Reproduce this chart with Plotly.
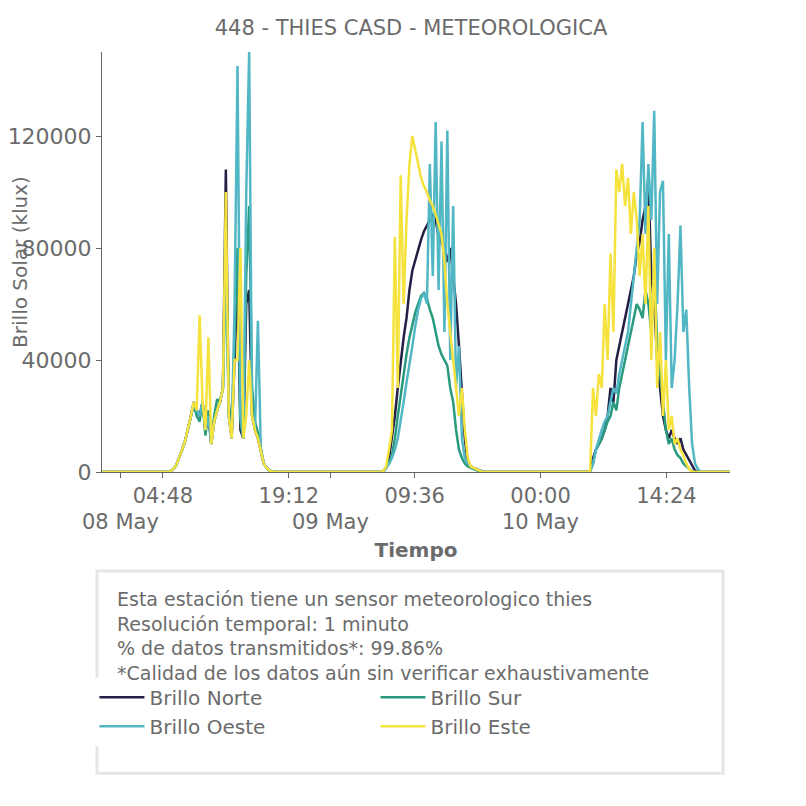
import pandas as pd
import plotly.graph_objects as go

days = ['2024-05-08', '2024-05-09', '2024-05-10']
range_start = '2024-05-07 21:50'
range_end = '2024-05-10 21:40'

# values every 20 minutes from 05:00 to 18:40 for each day (klux)
norte = [
    [0, 0, 300, 1000, 2500, 5000, 8000, 11000, 15000, 20000, 25000, 22000, 20000, 25000, 15000, 20000, 10000, 18000, 22000, 25000, 30000,
     108000, 20000, 12000, 40000, 70000, 15000, 12000, 60000, 65000, 20000, 15000, 12000, 8000, 3000, 1500, 500, 200, 0, 0, 0, 0],
    [0, 0, 0, 300, 1500, 5000, 12000, 20000, 30000, 40000, 48000, 55000, 65000, 72000, 76000, 80000, 83000, 86000, 88000, 90000, 92000,
     90000, 84000, 82000, 80000, 75000, 80000, 70000, 60000, 45000, 30000, 12000, 3000, 2000, 1500, 1000, 500, 200, 0, 0, 0, 0],
    [0, 0, 500, 5000, 8000, 10000, 12000, 15000, 20000, 30000, 25000, 40000, 45000, 50000, 55000, 60000, 65000, 70000, 78000, 82000, 90000,
     95000, 105000, 70000, 60000, 40000, 30000, 20000, 15000, 12000, 15000, 12000, 10000, 12000, 8000, 6000, 4000, 2000, 500, 0, 0, 0],
]
sur = [
    [0, 0, 300, 1000, 2500, 5000, 8000, 11000, 15000, 20000, 24000, 20000, 18000, 25000, 13000, 22000, 11000, 20000, 26000, 25000, 30000,
     75000, 25000, 15000, 50000, 80000, 18000, 12000, 70000, 95000, 30000, 18000, 14000, 9000, 3000, 1500, 500, 200, 0, 0, 0, 0],
    [0, 0, 0, 300, 1500, 3000, 6000, 12000, 20000, 28000, 35000, 42000, 48000, 53000, 57000, 60000, 63000, 64000, 62000, 58000, 55000,
     50000, 45000, 42000, 40000, 38000, 30000, 25000, 15000, 8000, 5000, 3000, 2000, 1500, 1000, 500, 200, 0, 0, 0, 0, 0],
    [0, 0, 300, 3000, 8000, 10000, 12000, 15000, 18000, 20000, 25000, 22000, 30000, 35000, 40000, 45000, 50000, 55000, 60000, 58000, 55000,
     65000, 60000, 50000, 75000, 45000, 35000, 25000, 15000, 10000, 12000, 8000, 6000, 5000, 3000, 2000, 1000, 300, 0, 0, 0, 0],
]
oeste = [
    [0, 0, 300, 1000, 2500, 5000, 8000, 11000, 15000, 20000, 25000, 22000, 20000, 25000, 15000, 20000, 10000, 18000, 22000, 25000, 30000,
     80000, 20000, 12000, 60000, 145000, 20000, 12000, 100000, 150000, 20000, 15000, 54000, 8000, 3000, 1500, 500, 200, 0, 0, 0, 0],
    [0, 0, 0, 300, 1500, 3000, 5000, 8000, 12000, 18000, 25000, 32000, 38000, 45000, 52000, 58000, 62000, 64000, 60000, 110000, 70000,
     125000, 65000, 118000, 50000, 122000, 40000, 95000, 30000, 45000, 12000, 5000, 3000, 2000, 1500, 1000, 500, 200, 0, 0, 0, 0],
    [0, 0, 300, 3000, 8000, 12000, 15000, 18000, 20000, 25000, 30000, 28000, 35000, 40000, 45000, 50000, 60000, 70000, 80000, 90000, 125000,
     85000, 110000, 90000, 129000, 60000, 100000, 104000, 40000, 85000, 30000, 40000, 60000, 88000, 50000, 58000, 30000, 10000, 3000, 1000, 0, 0],
]
este = [
    [0, 0, 300, 1000, 2500, 5000, 8000, 11000, 15000, 20000, 25000, 22000, 56000, 25000, 15000, 48000, 10000, 18000, 22000, 25000, 30000,
     100000, 20000, 12000, 40000, 40000, 80000, 12000, 20000, 40000, 20000, 15000, 12000, 8000, 3000, 1500, 500, 200, 0, 0, 0, 0],
    [0, 0, 0, 300, 2000, 8000, 15000, 84000, 30000, 106000, 60000, 90000, 110000, 120000, 115000, 110000, 105000, 102000, 100000, 97000, 95000,
     92000, 88000, 85000, 75000, 60000, 50000, 40000, 30000, 20000, 30000, 15000, 5000, 2000, 1500, 1000, 500, 0, 0, 0, 0, 0],
    [0, 0, 500, 30000, 20000, 35000, 30000, 60000, 40000, 78000, 50000, 108000, 100000, 110000, 95000, 105000, 85000, 100000, 90000, 70000, 85000,
     60000, 95000, 40000, 80000, 30000, 50000, 20000, 40000, 15000, 20000, 10000, 12000, 8000, 6000, 3000, 1000, 200, 0, 0, 0, 0],
]

series = [('Brillo Norte', norte, '#231f45'), ('Brillo Sur', sur, '#2a9a7f'),
          ('Brillo Oeste', oeste, '#52b7c4'), ('Brillo Este', este, '#f5e23d')]

info = ('Esta estación tiene un sensor meteorologico thies<br>Resolución temporal: 1 minuto<br>'
        '% de datos transmitidos*: 99.86%<br>*Calidad de los datos aún sin verificar exhaustivamente')


def build(day_values):
    times = [pd.Timestamp(range_start)]
    vals = [0]
    for d, v in zip(days, day_values):
        t = pd.date_range(d + ' 05:00', periods=len(v), freq='20min')
        times.extend(t)
        vals.extend(v)
    times.append(pd.Timestamp(range_end))
    vals.append(0)
    return times, vals


fig = go.Figure()
for name, vals, color in series:
    x, y = build(vals)
    fig.add_trace(go.Scatter(x=x, y=y, name=name, mode='lines', line=dict(color=color, width=2.5)))

tickvals = pd.to_datetime(['2024-05-08 04:48', '2024-05-08 19:12', '2024-05-09 09:36',
                           '2024-05-10 00:00', '2024-05-10 14:24'])
ticktext = ['04:48', '19:12', '09:36', '00:00', '14:24']

fig.update_layout(
    width=806, height=806,
    plot_bgcolor='white', paper_bgcolor='white',
    font=dict(family='"DejaVu Sans", Verdana, sans-serif', color='#6b6b6b', size=19),
    title=dict(text='448 - THIES CASD - METEOROLOGICA', x=0.5, y=0.985, font=dict(size=21)),
    margin=dict(l=94, r=84, t=44, b=342),
    showlegend=True,
    legend=dict(orientation='h', x=-0.012, y=-0.49, xanchor='left', yanchor='top', itemwidth=45,
                entrywidth=221, entrywidthmode='pixels', font=dict(size=20), tracegroupgap=0),
)
fig.update_xaxes(range=[range_start, range_end], tickvals=tickvals, ticktext=ticktext,
                 showline=True, linecolor='#666666', ticks='outside', tickcolor='#666666',
                 tickfont=dict(size=21),
                 showgrid=False, zeroline=False, automargin=False,
                 minor=dict(tickvals=pd.to_datetime(days[:2]), ticks='outside', ticklen=5, tickcolor='#666666'),
                 title=dict(text='<b>Tiempo</b>', font=dict(size=20), standoff=35))
fig.update_yaxes(range=[0, 150000], tickvals=[0, 40000, 80000, 120000], tickformat='d', showline=True,
                 linecolor='#666666', ticks='outside', tickcolor='#666666', showgrid=False,
                 tickfont=dict(size=22),
                 zeroline=False, automargin=False,
                 title=dict(text='Brillo Solar (klux)', font=dict(size=20), standoff=62))

for d, label in zip(days, ['08 May', '09 May', '10 May']):
    fig.add_annotation(x=d, y=0, xref='x', yref='paper', yshift=-36, yanchor='top', text=label,
                       showarrow=False, font=dict(size=21))

fig.add_shape(type='rect', xref='paper', yref='paper', x0=-0.008, x1=0.989, y0=-0.717, y1=-0.236,
              line=dict(color='#e6e6e6', width=3), fillcolor='rgba(0,0,0,0)')
fig.add_annotation(x=0.021, y=-0.272, xref='paper', yref='paper', xanchor='left', yanchor='top',
                   align='left', text=info, showarrow=False, font=dict(size=19))

fig.write_html('out.html')
